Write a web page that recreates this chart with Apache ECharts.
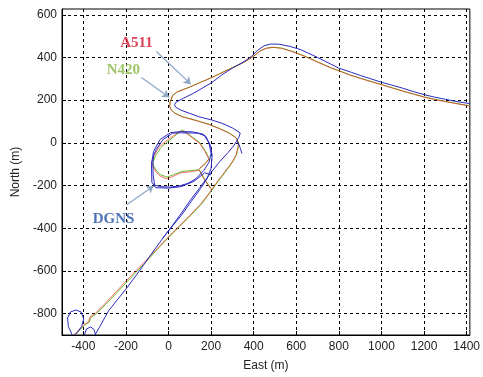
<!DOCTYPE html>
<html>
<head>
<meta charset="utf-8">
<script src="https://cdn.jsdelivr.net/npm/echarts@6/dist/echarts.min.js"></script>
<style>
  html, body { margin: 0; padding: 0; background: #fff; }
  #chart { width: 483px; height: 377px; }
</style>
</head>
<body>
<div id="chart"></div>
<script>
// tick labels
var xTicks = [-400, -200, 0, 200, 400, 600, 800, 1000, 1200, 1400];
var yTicks = [-800, -600, -400, -200, 0, 200, 400, 600];

// A511 receiver track (null = gap)
var a511Track = [
  [-445,-900],[-420,-875],[-395,-850],[-375,-838],[-368,-815],[-345,-800],[-300,-755],[-250,-702],
  [-200,-648],[-150,-596],[-100,-545],[-50,-492],[0,-440],[50,-390],[100,-340],[150,-288],
  [193,-232],[230,-180],[265,-135],[300,-88],[318,-55],[326,-20],[329,0],[315,25],[283,46],
  [240,66],[190,86],[130,104],[65,122],[30,138],[13,153],[5,170],[7,190],[19,222],[40,238],
  [97,260],[150,283],[204,306],[260,333],[300,352],[340,370],[376,390],[405,410],[430,430],
  [460,443],[490,447],[530,443],[580,428],[640,405],[700,378],[760,352],[800,337],[850,318],
  [900,302],[950,287],[1000,272],[1050,257],[1100,242],[1150,228],[1200,214],[1250,203],
  [1300,193],[1350,184],[1415,172],
  null,
  [198,-215],[170,-175],[144,-128],[100,-136],[59,-140],[20,-158],[-11,-168],[-40,-155],
  [-57,-138],[-72,-112],[-80,-92],[-66,-58],[-44,-18],[-12,8],[20,31],[45,50],[62,55],
  [82,46],[110,25],[144,0],[170,-38],[190,-76],[170,-100],[144,-122]
];

// N420 receiver track
var n420Track = [
  [-440,-900],[-416,-876],[-392,-852],[-372,-840],[-365,-818],[-342,-803],[-296,-758],[-246,-706],
  [-196,-652],[-146,-600],[-97,-548],[-48,-494],[2,-442],[52,-392],[102,-342],[152,-290],
  [195,-234],[232,-182],[267,-137],[301,-90],[319,-57],[327,-22],[330,0],[316,26],[284,47],
  [241,67],[191,87],[131,105],[66,123],[31,139],[14,154],[6,171],[8,190],[20,223],[41,239],
  [98,261],[151,284],[205,307],[261,334],[301,353],[341,371],[377,391],[406,411],[431,431],
  [461,444],[491,448],[531,444],[581,429],[641,406],[701,379],[761,353],[801,338],[851,319],
  [901,303],[951,288],[1001,273],[1051,258],[1101,243],[1151,229],[1201,215],[1251,204],
  [1301,194],[1351,185],[1415,174],
  null,
  [199,-213],[171,-173],[145,-126],[102,-130],[60,-134],[22,-150],[-8,-160],[-36,-150],
  [-55,-134],[-68,-110],[-74,-92],[-60,-60],[-38,-24],[-6,4],[24,28],[48,48],[64,60],
  [84,50],[112,27],[146,2],[172,-36],[192,-74],[172,-98],[146,-120]
];

// DGNS reference track
var dgnsTrack = [
  [-452,-900],[-470,-860],[-474,-820],[-460,-792],[-435,-783],[-410,-792],[-398,-825],
  [-408,-860],[-425,-885],[-440,-900],
  null,
  [-395,-900],[-385,-872],[-365,-862],[-350,-874],[-342,-900],
  null,
  [-345,-900],[-325,-865],[-300,-820],[-280,-785],[-240,-735],[-196,-680],[-150,-618],
  [-119,-575],[-80,-520],[-40,-465],[-10,-425],[20,-385],[60,-330],[100,-272],[144,-214],
  [190,-152],[237,-92],[280,-45],[305,-15],[318,5],[330,25],[337,46],[300,70],[251,92],
  [200,108],[144,122],[100,138],[59,153],[35,166],[28,178],[36,191],[70,209],[111,229],
  [160,257],[204,283],[250,318],[300,350],[350,378],[390,405],[420,435],[450,455],[480,463],
  [520,462],[570,452],[620,437],[700,400],[760,370],[800,350],[860,330],[900,316],[950,300],
  [1000,284],[1050,270],[1100,256],[1150,240],[1200,226],[1250,214],[1300,204],[1350,194],
  [1415,184],
  null,
  [-30,-450],[10,-400],[60,-340],[110,-270],[150,-215],[180,-170],[200,-120],[205,-60],
  [198,-15],[175,31],[140,45],[113,46],[60,47],[20,46],[-26,15],[-57,-30],[-70,-60],
  [-73,-92],[-72,-150],[-65,-199],[-26,-206],[10,-207],[51,-202],[90,-190],[129,-168],
  [165,-130],[190,-92],[200,-50],[190,0],[165,40],[110,52],[50,52],[10,48],[-40,15],
  [-70,-40],[-80,-100],[-78,-185],[-60,-210],[0,-212],[60,-205],[120,-180],[170,-140],[200,-150],
  null,
  [322,8],[330,-5],[337,-25],[345,-50]
];

var chart = echarts.init(document.getElementById('chart'));

var tickFont = { fontFamily: 'Liberation Sans, Arial', fontSize: 12, color: '#222' };
var arrowStyle = { color: '#8ea7c6', width: 1.3, opacity: 1, curveness: 0 };
var labelFont = 'Liberation Serif, Times New Roman';

function plain(v) { return String(v); }

var option = {
  animation: false,
  grid: { left: 62, right: 9, top: 9, bottom: 35, show: true, borderColor: '#000', borderWidth: 1 },
  xAxis: {
    type: 'value', min: -500, max: 1415,
    name: 'East (m)', nameLocation: 'middle', nameGap: 25,
    nameTextStyle: tickFont,
    axisLine: { show: true, onZero: false, lineStyle: { color: '#000' } },
    axisTick: { show: true, inside: true, length: 4, customValues: xTicks, lineStyle: { color: '#000' } },
    axisLabel: Object.assign({ customValues: xTicks, margin: 6, formatter: plain }, tickFont),
    splitLine: { show: true, lineStyle: { color: '#000', type: [3, 3], width: 1 } }
  },
  yAxis: {
    type: 'value', min: -900, max: 627,
    name: 'North (m)', nameLocation: 'middle', nameGap: 35,
    nameTextStyle: tickFont,
    axisLine: { show: true, onZero: false, lineStyle: { color: '#000' } },
    axisTick: { show: true, inside: true, length: 4, customValues: yTicks, lineStyle: { color: '#000' } },
    axisLabel: Object.assign({ customValues: yTicks, margin: 5, formatter: plain }, tickFont),
    splitLine: { show: true, lineStyle: { color: '#000', type: [3, 3], width: 1 } }
  },
  series: [
    {
      name: 'N420', type: 'line', data: n420Track, showSymbol: false, connectNulls: false,
      lineStyle: { color: '#6cc030', width: 1 }, z: 3
    },
    {
      name: 'A511', type: 'line', data: a511Track, showSymbol: false, connectNulls: false,
      lineStyle: { color: '#f01010', width: 1, opacity: 0.6 }, z: 4
    },
    {
      name: 'DGNS', type: 'line', data: dgnsTrack, showSymbol: false, connectNulls: false,
      lineStyle: { color: '#2a2abe', width: 1 }, z: 5
    },
    {
      type: 'lines', coordinateSystem: 'cartesian2d', symbol: ['none', 'arrow'], symbolSize: 7,
      lineStyle: arrowStyle, z: 6,
      data: [
        { coords: [[-57, 428], [105, 275]] },
        { coords: [[-127, 306], [3, 214]] },
        { coords: [[-196, -290], [-70, -202]] }
      ]
    },
    {
      type: 'scatter', symbolSize: 0, z: 7, silent: true,
      label: { show: true, position: 'inside', fontFamily: labelFont, fontWeight: 'bold', fontSize: 15,
        formatter: function (p) { return p.data.text; } },
      data: [
        { value: [-150, 468], text: 'A511', label: { color: '#d4122a' } },
        { value: [-212, 340], text: 'N420', label: { color: '#86b545' } },
        { value: [-258, -358], text: 'DGNS', label: { color: '#1f4fa6' } }
      ]
    }
  ]
};

chart.setOption(option);
</script>
</body>
</html>
